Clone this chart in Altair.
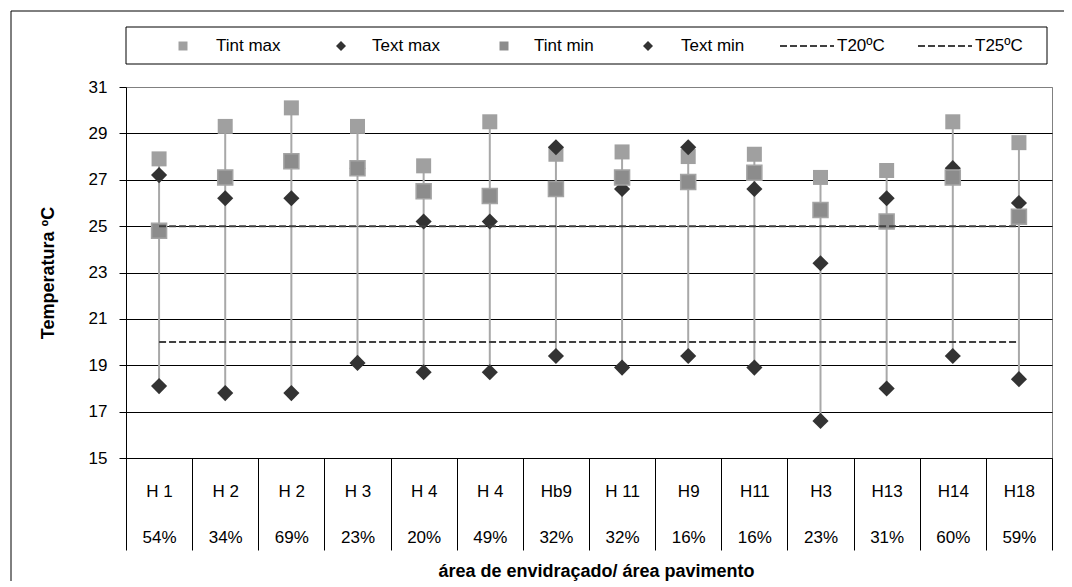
import altair as alt
import pandas as pd

# ---------------- data ----------------
categories = ["H 1", "H 2", "H 2", "H 3", "H 4", "H 4", "Hb9", "H 11", "H9", "H11", "H3", "H13", "H14", "H18"]
ratios = ["54%", "34%", "69%", "23%", "20%", "49%", "32%", "32%", "16%", "16%", "23%", "31%", "60%", "59%"]
tint_max = [27.9, 29.3, 30.1, 29.3, 27.6, 29.5, 28.1, 28.2, 28.0, 28.1, 27.1, 27.4, 29.5, 28.6]
text_max = [27.2, 26.2, 26.2, 27.5, 25.2, 25.2, 28.4, 26.6, 28.4, 26.6, 23.4, 26.2, 27.5, 26.0]
tint_min = [24.8, 27.1, 27.8, 27.5, 26.5, 26.3, 26.6, 27.1, 26.9, 27.3, 25.7, 25.2, 27.1, 25.4]
text_min = [18.1, 17.8, 17.8, 19.1, 18.7, 18.7, 19.4, 18.9, 19.4, 18.9, 16.6, 18.0, 19.4, 18.4]
t20 = [20, 20, 20, 20, 20, 20, 20, 20, 20, 20, 20, 20, 20, 20]
t25 = [25, 25, 25, 25, 25, 25, 25, 25, 25, 25, 25, 25, 25, 25]
y_ticks = [15, 17, 19, 21, 23, 25, 27, 29, 31]
legend_labels = ["Tint max", "Text max", "Tint min", "Text min", "T20ºC", "T25ºC"]

keys = [f"{c}|{r}" for c, r in zip(categories, ratios)]
df = pd.DataFrame({
    "key": keys,
    "tint_max": tint_max,
    "text_max": text_max,
    "tint_min": tint_min,
    "text_min": text_min,
    "t20": t20,
    "t25": t25,
})

# ---------------- layout / style ----------------
W, H = 926, 371
FONT = "Liberation Sans"
C_TMAX = "#a0a0a0"
C_TMIN = "#8c8c8c"
C_EXT = "#333333"
C_DASH = "#404040"
C_HL = "#a8a8a8"

x_axis = alt.Axis(
    tickBand="extent", ticks=True, tickSize=92, tickColor="black", tickWidth=1,
    domainColor="black", grid=False,
    labelExpr="split(datum.label, '|')", labelFontSize=17, labelFont=FONT,
    labelColor="black", labelLineHeight=46, labelPadding=-67, labelBaseline="top",
    labelOverlap=False, labelAngle=0,
    title="área de envidraçado/ área pavimento", titleFontSize=18, titleFont=FONT,
    titleFontWeight="bold", titleColor="black", titleX=470, titleY=113,
    titleBaseline="middle", titleAlign="center",
)
x_enc = alt.X("key:N", sort=keys,
              scale=alt.Scale(type="band", domain=keys, paddingInner=0, paddingOuter=0),
              axis=x_axis)

y_axis = alt.Axis(
    values=y_ticks, grid=True,
    gridColor={"condition": {"test": "datum.value === 31", "value": "#808080"}, "value": "#000000"},
    gridWidth=1, domainColor="black", tickColor="black", tickSize=7,
    labelPadding=12, labelFontSize=17, labelFont=FONT, labelColor="black",
    title="Temperatura ºC", titleFontSize=18, titleFont=FONT, titleFontWeight="bold",
    titleColor="black", titleAngle=270, titleX=-73, titleY=H / 2,
    titleBaseline="alphabetic", titleAlign="center",
)
y_scale = alt.Scale(domain=[15, 31], nice=False, zero=False)


def y_enc(field):
    return alt.Y(f"{field}:Q", scale=y_scale, axis=y_axis)


base = alt.Chart(df)

hilo = base.transform_calculate(
    hi="max(datum.tint_max, datum.text_max, datum.tint_min, datum.text_min)",
    lo="min(datum.tint_max, datum.text_max, datum.tint_min, datum.text_min)",
).mark_rule(color=C_HL, strokeWidth=2).encode(
    x=x_enc, y=alt.Y("hi:Q", scale=y_scale, axis=y_axis), y2="lo:Q")

p_tmax = base.mark_point(shape="square", filled=True, size=225, color=C_TMAX, opacity=1).encode(
    x=x_enc, y=y_enc("tint_max"))
p_emax = base.mark_point(shape="diamond", filled=True, size=260, color=C_EXT, opacity=1).encode(
    x=x_enc, y=y_enc("text_max"))
p_tmin = base.mark_point(shape="square", filled=True, size=225, fill=C_TMIN, stroke="#a4a4a4",
                         strokeWidth=1.5, opacity=1).encode(x=x_enc, y=y_enc("tint_min"))
p_emin = base.mark_point(shape="diamond", filled=True, size=260, color=C_EXT, opacity=1).encode(
    x=x_enc, y=y_enc("text_min"))

l20 = base.mark_line(color=C_DASH, strokeDash=[7, 3], strokeWidth=2).encode(x=x_enc, y=y_enc("t20"))
l25 = base.mark_line(color=C_DASH, strokeDash=[7, 3], strokeWidth=2).encode(x=x_enc, y=y_enc("t25"))

# ---------------- decoration: outer frame and legend ----------------
one = alt.Chart(pd.DataFrame({"a": [0]}))
frame_top = one.mark_rule(color="black", strokeWidth=1).encode(
    x=alt.value(-115), x2=alt.value(1100), y=alt.value(-76))
frame_left = one.mark_rule(color="black", strokeWidth=1).encode(
    x=alt.value(-115), y=alt.value(-76), y2=alt.value(700))

leg_box = one.mark_rect(fill="white", stroke="black", strokeWidth=1).encode(
    x=alt.value(0), x2=alt.value(921), y=alt.value(-60), y2=alt.value(-23))

LEG_Y = -41
leg_layers = [
    one.mark_point(shape="square", filled=True, size=81, color=C_TMAX, opacity=1).encode(
        x=alt.value(57), y=alt.value(LEG_Y)),
    one.mark_point(shape="diamond", filled=True, size=100, color=C_EXT, opacity=1).encode(
        x=alt.value(215), y=alt.value(LEG_Y)),
    one.mark_point(shape="square", filled=True, size=81, color=C_TMIN, opacity=1).encode(
        x=alt.value(378), y=alt.value(LEG_Y)),
    one.mark_point(shape="diamond", filled=True, size=100, color=C_EXT, opacity=1).encode(
        x=alt.value(522), y=alt.value(LEG_Y)),
    one.mark_rule(color=C_DASH, strokeDash=[7, 3], strokeWidth=2).encode(
        x=alt.value(654), x2=alt.value(708), y=alt.value(LEG_Y)),
    one.mark_rule(color=C_DASH, strokeDash=[7, 3], strokeWidth=2).encode(
        x=alt.value(792), x2=alt.value(846), y=alt.value(LEG_Y)),
]
for lab, xpos in zip(legend_labels, [90, 246, 408, 555, 711, 849]):
    leg_layers.append(
        one.mark_text(align="left", baseline="middle", fontSize=17, font=FONT, color="black").encode(
            x=alt.value(xpos), y=alt.value(LEG_Y), text=alt.value(lab)))

chart = alt.layer(
    hilo, p_tmax, p_emax, p_tmin, p_emin, l20, l25,
    frame_top, frame_left, leg_box, *leg_layers,
).properties(
    width=W, height=H,
    padding={"left": 118, "top": 79, "right": 12, "bottom": 123},
    autosize=alt.AutoSizeParams(type="none"),
    background="white",
).configure_view(stroke="#808080", strokeWidth=1)

chart.save("out.html", embed_options={"renderer": "svg", "actions": False})
